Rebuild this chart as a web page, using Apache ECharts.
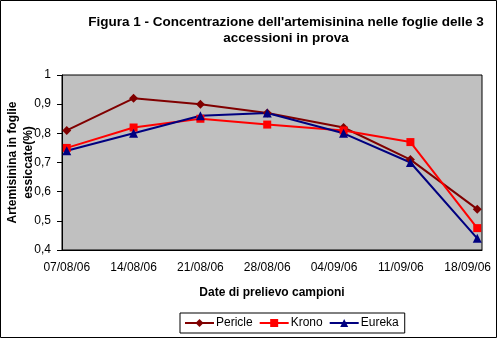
<!DOCTYPE html>
<html>
<head>
<meta charset="utf-8">
<script src="https://cdn.jsdelivr.net/npm/echarts@6/dist/echarts.min.js"></script>
<style>
  html, body { margin: 0; padding: 0; background: #fff; }
  #chart { width: 500px; height: 340px; }
</style>
</head>
<body>
<div id="chart"></div>
<script>
// Sampling dates and artemisinin concentration (% of dried leaves)
const sampleDates = ['07/08/06', '14/08/06', '21/08/06', '28/08/06', '05/09/06', '12/09/06', '19/09/06'];
const pericle = [0.81, 0.92, 0.90, 0.87, 0.82, 0.71, 0.54];
const krono   = [0.75, 0.82, 0.85, 0.83, 0.81, 0.77, 0.475];
const eureka  = [0.74, 0.80, 0.86, 0.87, 0.80, 0.70, 0.44];
const seriesNames = ['Pericle', 'Krono', 'Eureka'];

// Weekly tick labels on the date axis
const tickLabels = ['07/08/06', '14/08/06', '21/08/06', '28/08/06', '04/09/06', '11/09/06', '18/09/06'];

// Daily slots from the first to the last sampling day
function pad(n) { return (n < 10 ? '0' : '') + n; }
function fmt(d) {
  return pad(d.getUTCDate()) + '/' + pad(d.getUTCMonth() + 1) + '/' + String(d.getUTCFullYear()).slice(2);
}
function parse(s) {
  const p = s.split('/');
  return Date.UTC(2000 + Number(p[2]), Number(p[1]) - 1, Number(p[0]));
}
const days = [];
for (let t = parse(sampleDates[0]); t <= parse(sampleDates[sampleDates.length - 1]); t += 86400000) {
  days.push(fmt(new Date(t)));
}
const isTick = (i) => tickLabels.indexOf(days[i]) !== -1;

const FONT = 'Liberation Sans, Arial, sans-serif';
const pair = (vals) => sampleDates.map((d, i) => [d, vals[i]]);

const chart = echarts.init(document.getElementById('chart'), null, { renderer: 'canvas' });
chart.setOption({
  animation: false,
  backgroundColor: '#fff',
  title: {
    text: "Figura 1 - Concentrazione dell'artemisinina nelle foglie delle 3\naccessioni in prova",
    left: 281,
    top: 9,
    textAlign: 'center',
    textStyle: { fontFamily: FONT, fontSize: 13.5, fontWeight: 'bold', color: '#000', lineHeight: 16 }
  },
  grid: {
    left: 62, right: 18, top: 75, bottom: 90,
    outerBoundsMode: 'none',
    containLabel: false,
    show: true, backgroundColor: '#C0C0C0', borderColor: '#000', borderWidth: 1
  },
  legend: {
    data: seriesNames,
    left: 180, top: 313,
    padding: [4, 6, 4, 4],
    itemGap: 6,
    itemWidth: 29, itemHeight: 10,
    borderColor: '#000', borderWidth: 1,
    textStyle: { fontFamily: FONT, fontSize: 12, color: '#000', padding: [0, 0, 0, -3] }
  },
  xAxis: {
    type: 'category',
    data: days,
    boundaryGap: true,
    name: 'Date di prelievo campioni',
    nameLocation: 'middle',
    nameGap: 37,
    nameMoveOverlap: false,
    nameTextStyle: { fontFamily: FONT, fontSize: 12, fontWeight: 'bold', color: '#000' },
    axisLine: { lineStyle: { color: '#000', width: 1 } },
    axisTick: { interval: (i) => isTick(i), length: 5, lineStyle: { color: '#000' } },
    axisLabel: { interval: (i) => isTick(i), margin: 12, fontFamily: FONT, fontSize: 12, color: '#000' },
    splitLine: { show: false }
  },
  yAxis: {
    type: 'value',
    min: 0.4, max: 1, interval: 0.1,
    name: 'Artemisinina in foglie\nessiccate(%)',
    nameLocation: 'middle',
    nameGap: 25,
    nameMoveOverlap: false,
    nameRotate: 90,
    nameTextStyle: { fontFamily: FONT, fontSize: 12, fontWeight: 'bold', color: '#000', lineHeight: 16 },
    axisLine: { show: true, lineStyle: { color: '#000', width: 1 } },
    axisTick: { show: true, length: 5, lineStyle: { color: '#000' } },
    axisLabel: {
      margin: 11, fontFamily: FONT, fontSize: 12, color: '#000',
      formatter: (v) => (Math.abs(v - 1) < 1e-9 ? '1' : v.toFixed(1).replace('.', ','))
    },
    splitLine: { show: false }
  },
  series: [
    {
      name: seriesNames[0], type: 'line', data: pair(pericle),
      symbol: 'diamond', symbolSize: 9, showAllSymbol: true,
      lineStyle: { color: '#800000', width: 2 },
      itemStyle: { color: '#800000' }
    },
    {
      name: seriesNames[1], type: 'line', data: pair(krono),
      symbol: 'rect', symbolSize: 8, showAllSymbol: true,
      lineStyle: { color: '#FF0000', width: 2 },
      itemStyle: { color: '#FF0000' }
    },
    {
      name: seriesNames[2], type: 'line', data: pair(eureka),
      symbol: 'triangle', symbolSize: 9, showAllSymbol: true,
      lineStyle: { color: '#000080', width: 2 },
      itemStyle: { color: '#000080' }
    }
  ],
  graphic: [
    {
      type: 'rect', silent: true,
      shape: { x: 0.5, y: 0.5, width: 496, height: 337 },
      style: { fill: 'none', stroke: '#000', lineWidth: 1 }
    }
  ]
});
</script>
</body>
</html>
